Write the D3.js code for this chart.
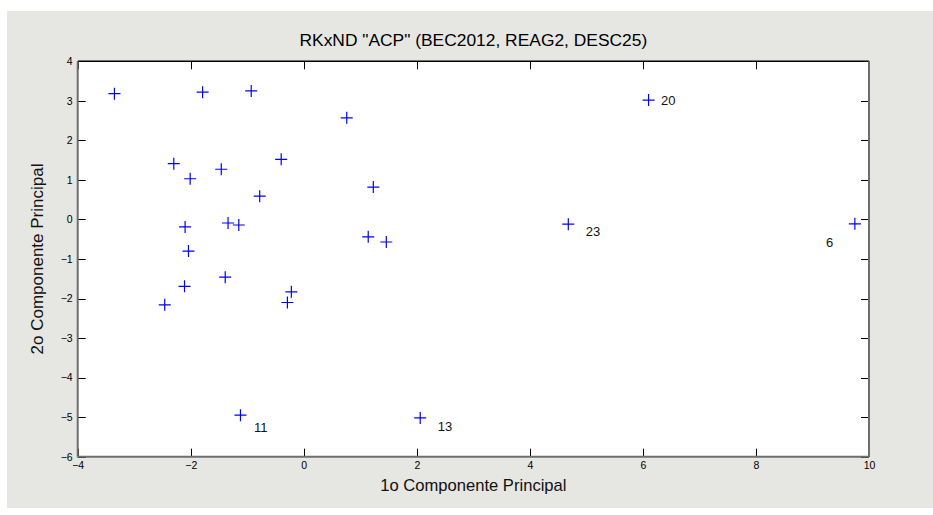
<!DOCTYPE html>
<html><head><meta charset="utf-8">
<script src="https://cdn.jsdelivr.net/npm/d3@7"></script>
<style>body{margin:0;background:#fff;} svg{display:block;}</style>
</head><body><div id="chart"></div>
<script>
const pcX = [-3.35,-1.79,-0.93,0.76,-2.30,-1.46,-2.01,-0.40,1.23,-0.78,-2.10,-1.34,-1.15,1.14,1.46,-2.04,-1.39,-2.11,-0.22,-0.29,-2.46,-1.12,2.06,6.10,4.68,9.75];
const pcY = [3.18,3.22,3.25,2.57,1.41,1.27,1.03,1.52,0.82,0.59,-0.19,-0.09,-0.14,-0.44,-0.57,-0.80,-1.46,-1.69,-1.83,-2.10,-2.16,-4.95,-5.02,3.02,-0.12,-0.11];
const labelText = ["20","23","11","13","6"];
const labelX = [6.32,4.99,-0.88,2.37,9.24];
const labelY = [3.02,-0.31,-5.25,-5.23,-0.57];
const xTicks = [-4,-2,0,2,4,6,8,10];
const yTicks = [-6,-5,-4,-3,-2,-1,0,1,2,3,4];
const title = 'RKxND "ACP" (BEC2012, REAG2, DESC25)';
const xLabel = "1o Componente Principal";
const yLabel = "2o Componente Principal";

const W=933,H=515;
const L=77.7,R=869,T=61.3,B=456.7;
const svg=d3.select("#chart").append("svg").attr("width",W).attr("height",H);
svg.append("rect").attr("x",7).attr("y",11).attr("width",W-7).attr("height",497).attr("fill","#e6e6e2");
const x=d3.scaleLinear().domain([-4,10]).range([L,R]);
const y=d3.scaleLinear().domain([-6,4]).range([B,T]);
svg.append("rect").attr("x",L).attr("y",T).attr("width",R-L).attr("height",B-T).attr("fill","#fff");

const font="Liberation Sans, Arial, sans-serif";
// axes
const gx=svg.append("g").attr("transform",`translate(0,${B})`)
  .call(d3.axisBottom(x).tickValues(xTicks).tickSize(0).tickPadding(5).tickFormat(d3.format("d")));
gx.select(".domain").remove();
gx.selectAll("text").attr("font-family",font).attr("font-size",10.5).attr("fill","#000").attr("dy","0.71em");
const gy=svg.append("g").attr("transform",`translate(${L},0)`)
  .call(d3.axisLeft(y).tickValues(yTicks).tickSize(0).tickPadding(5).tickFormat(d3.format("d")));
gy.select(".domain").remove();
gy.selectAll("text").attr("font-family",font).attr("font-size",10.5).attr("fill","#000");

// inner ticks
const tk=svg.append("g").attr("stroke","#000").attr("stroke-width",1);
xTicks.forEach(v=>{
  tk.append("line").attr("x1",Math.round(x(v))+0.5).attr("x2",Math.round(x(v))+0.5).attr("y1",B).attr("y2",B-8);
  tk.append("line").attr("x1",Math.round(x(v))+0.5).attr("x2",Math.round(x(v))+0.5).attr("y1",T).attr("y2",T+8);
});
yTicks.forEach(v=>{
  tk.append("line").attr("y1",Math.round(y(v))+0.5).attr("y2",Math.round(y(v))+0.5).attr("x1",L).attr("x2",L+8);
  tk.append("line").attr("y1",Math.round(y(v))+0.5).attr("y2",Math.round(y(v))+0.5).attr("x1",R).attr("x2",R-8);
});
// box
svg.append("line").attr("x1",L).attr("x2",R).attr("y1",T).attr("y2",T).attr("stroke","#000").attr("stroke-width",1.5);
svg.append("line").attr("x1",L).attr("x2",L).attr("y1",T).attr("y2",B).attr("stroke","#6e6e6e").attr("stroke-width",2);
svg.append("line").attr("x1",L).attr("x2",R).attr("y1",B).attr("y2",B).attr("stroke","#6e6e6e").attr("stroke-width",2);
svg.append("line").attr("x1",R).attr("x2",R).attr("y1",T).attr("y2",B).attr("stroke","#6e6e6e").attr("stroke-width",2);

// points (plus markers)
const pts=d3.range(pcX.length).map(i=>({x:pcX[i],y:pcY[i]}));
const s=6;
const g=svg.append("g").attr("stroke","#0000ff").attr("stroke-width",1.2);
g.selectAll("path").data(pts).join("path")
  .attr("d",d=>{const px=x(d.x),py=y(d.y);return `M${px-s},${py}H${px+s}M${px},${py-s}V${py+s}`;});

// labels
svg.append("g").selectAll("text").data(labelText).join("text")
  .attr("x",(d,i)=>x(labelX[i])).attr("y",(d,i)=>y(labelY[i])).attr("dy","0.35em")
  .attr("font-family",font).attr("font-size",13).attr("fill","#111").text(d=>d);

svg.append("text").attr("x",(L+R)/2).attr("y",46).attr("text-anchor","middle")
  .attr("font-family",font).attr("font-size",17.4).attr("fill","#000").text(title);
svg.append("text").attr("x",(L+R)/2).attr("y",491).attr("text-anchor","middle")
  .attr("font-family",font).attr("font-size",16.6).attr("fill","#111").text(xLabel);
svg.append("text").attr("transform",`translate(43,${(T+B)/2}) rotate(-90)`).attr("text-anchor","middle")
  .attr("font-family",font).attr("font-size",17).attr("fill","#111").text(yLabel);
</script></body></html>
